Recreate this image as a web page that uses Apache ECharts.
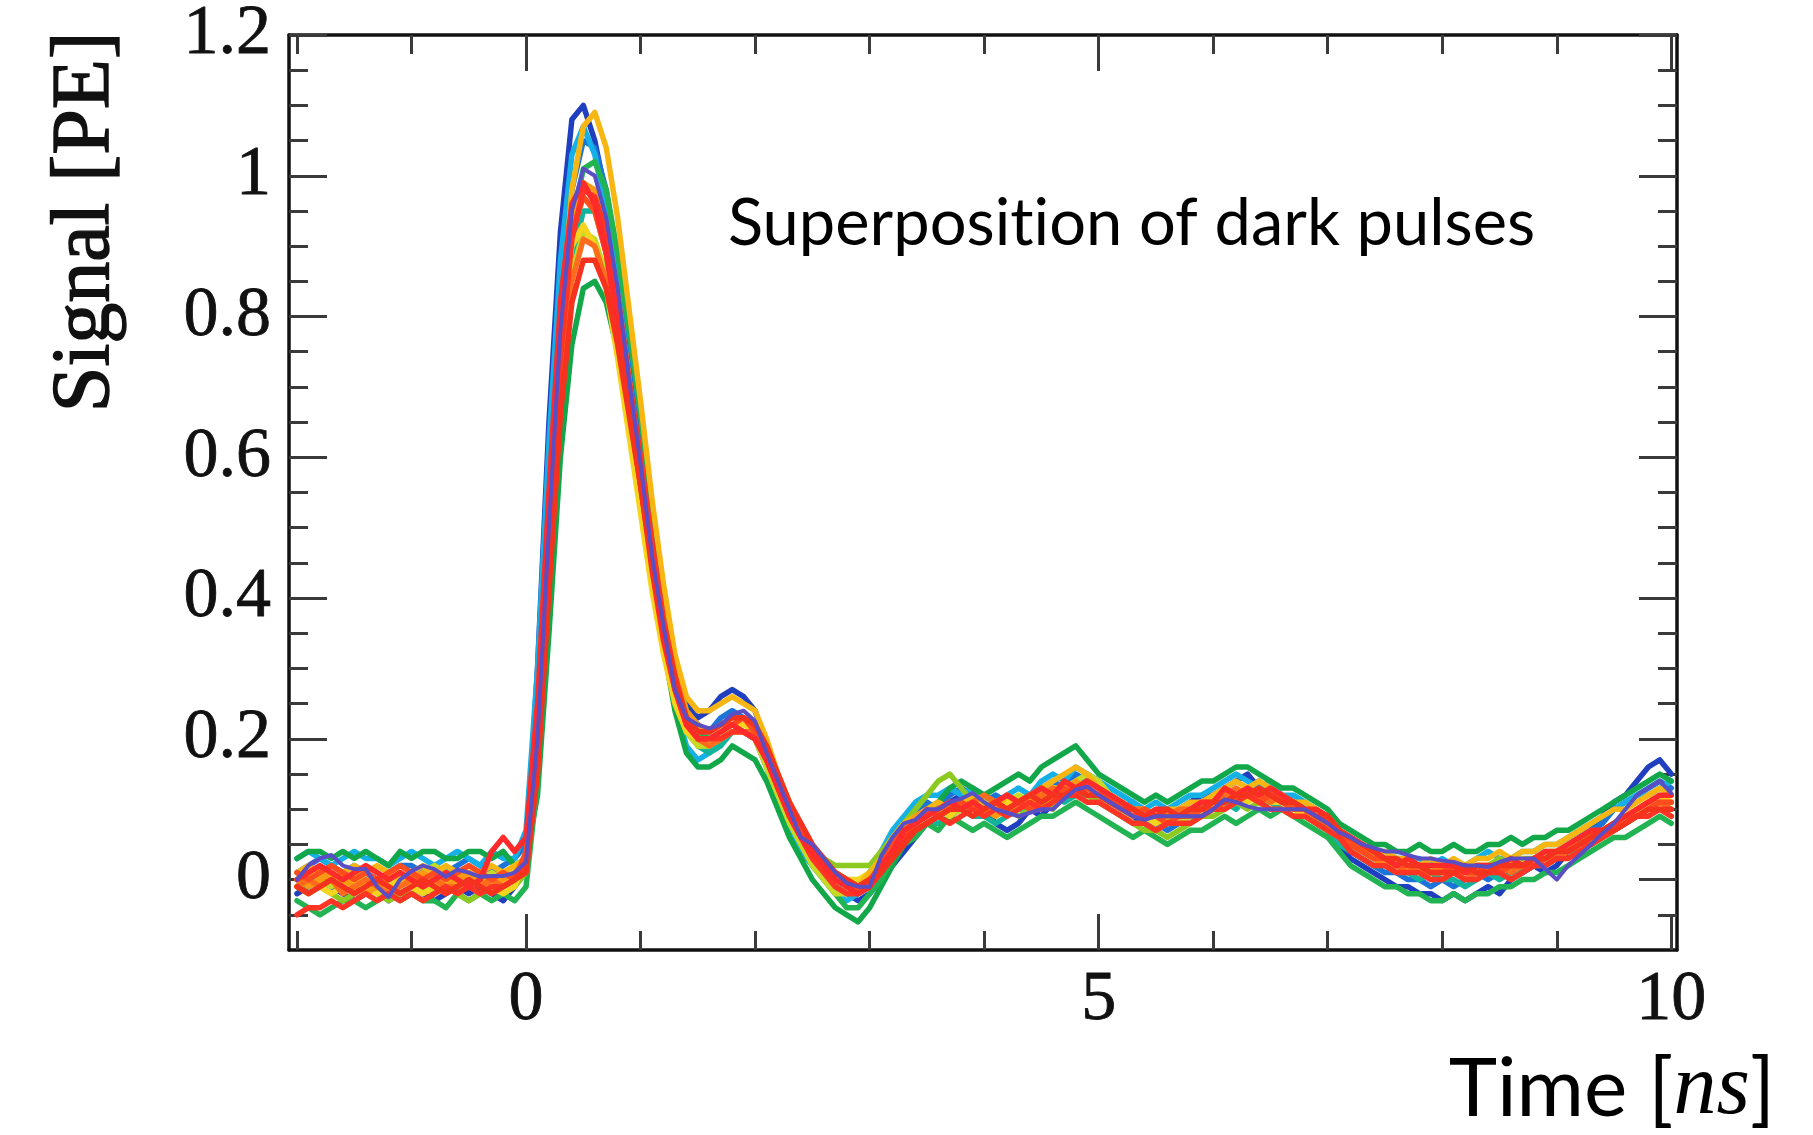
<!DOCTYPE html>
<html>
<head>
<meta charset="utf-8">
<title>Superposition of dark pulses</title>
<script src="https://cdn.jsdelivr.net/npm/echarts@6/dist/echarts.min.js"></script>
<style>
  html, body { margin: 0; padding: 0; background: #ffffff; }
  #chart { width: 1813px; height: 1135px; }
</style>
</head>
<body>
<div id="chart"></div>
<script>
// Sample times of the digitised waveforms [ns], 0.1 ns apart
const times = [
  -2.0, -1.9, -1.8, -1.7, -1.6, -1.5, -1.4, -1.3, -1.2, -1.1,
  -1.0, -0.9, -0.8, -0.7, -0.6, -0.5, -0.4, -0.3, -0.2, -0.1,
  0.0, 0.1, 0.2, 0.3, 0.4, 0.5, 0.6, 0.7, 0.8, 0.9,
  1.0, 1.1, 1.2, 1.3, 1.4, 1.5, 1.6, 1.7, 1.8, 1.9,
  2.0, 2.1, 2.2, 2.3, 2.4, 2.5, 2.6, 2.7, 2.8, 2.9,
  3.0, 3.1, 3.2, 3.3, 3.4, 3.5, 3.6, 3.7, 3.8, 3.9,
  4.0, 4.1, 4.2, 4.3, 4.4, 4.5, 4.6, 4.7, 4.8, 4.9,
  5.0, 5.1, 5.2, 5.3, 5.4, 5.5, 5.6, 5.7, 5.8, 5.9,
  6.0, 6.1, 6.2, 6.3, 6.4, 6.5, 6.6, 6.7, 6.8, 6.9,
  7.0, 7.1, 7.2, 7.3, 7.4, 7.5, 7.6, 7.7, 7.8, 7.9,
  8.0, 8.1, 8.2, 8.3, 8.4, 8.5, 8.6, 8.7, 8.8, 8.9,
  9.0, 9.1, 9.2, 9.3, 9.4, 9.5, 9.6, 9.7, 9.8, 9.9,
  10.0
];

// Individual dark pulses, signal in photo-electrons [PE]
const pulseDarkBlue = [
  -0.02, -0.01, 0.00, -0.01, -0.02, -0.03, -0.02, -0.01, -0.03, -0.02,
  -0.01, -0.02, -0.03, -0.02, -0.01, -0.02, -0.01, -0.02, -0.03, -0.01,
  0.03, 0.30, 0.65, 0.92, 1.08, 1.10, 1.05, 0.97, 0.87, 0.74,
  0.62, 0.50, 0.39, 0.31, 0.25, 0.23, 0.24, 0.26, 0.27, 0.26,
  0.24, 0.19, 0.14, 0.10, 0.06, 0.03, 0.01, -0.01, -0.02, -0.03,
  -0.02, 0.00, 0.02, 0.04, 0.06, 0.08, 0.09, 0.11, 0.12, 0.11,
  0.10, 0.08, 0.07, 0.08, 0.10, 0.09, 0.11, 0.12, 0.14, 0.15,
  0.14, 0.12, 0.10, 0.09, 0.08, 0.07, 0.08, 0.10, 0.11, 0.12,
  0.12, 0.13, 0.14, 0.15, 0.13, 0.12, 0.12, 0.11, 0.10, 0.09,
  0.07, 0.05, 0.03, 0.02, 0.01, 0.00, -0.01, -0.01, -0.02, -0.02,
  -0.03, -0.02, -0.03, -0.02, -0.01, -0.02, 0.00, 0.01, 0.02, 0.01,
  0.02, 0.04, 0.06, 0.07, 0.09, 0.11, 0.12, 0.14, 0.16, 0.17,
  0.15
];
const pulseBlue = [
  0.01, 0.02, 0.03, 0.02, 0.01, 0.02, 0.01, 0.00, 0.01, 0.02,
  0.02, 0.01, 0.00, 0.01, 0.02, 0.03, 0.02, 0.01, 0.02, 0.03,
  0.05, 0.22, 0.52, 0.80, 0.98, 1.05, 1.04, 0.98, 0.88, 0.75,
  0.62, 0.49, 0.38, 0.29, 0.24, 0.22, 0.21, 0.23, 0.24, 0.23,
  0.22, 0.18, 0.13, 0.09, 0.05, 0.03, 0.01, -0.01, -0.02, -0.01,
  0.01, 0.03, 0.06, 0.08, 0.09, 0.11, 0.10, 0.12, 0.13, 0.12,
  0.11, 0.12, 0.11, 0.10, 0.12, 0.13, 0.14, 0.13, 0.15, 0.14,
  0.13, 0.11, 0.10, 0.11, 0.09, 0.08, 0.07, 0.08, 0.09, 0.11,
  0.12, 0.13, 0.12, 0.13, 0.14, 0.12, 0.11, 0.11, 0.10, 0.08,
  0.07, 0.05, 0.04, 0.03, 0.02, 0.01, 0.01, 0.00, 0.00, -0.01,
  0.00, -0.01, 0.00, 0.01, 0.00, 0.01, 0.02, 0.01, 0.02, 0.03,
  0.03, 0.05, 0.06, 0.07, 0.08, 0.10, 0.11, 0.12, 0.13, 0.14,
  0.13
];
const pulseCyan = [
  0.03, 0.04, 0.03, 0.02, 0.03, 0.04, 0.03, 0.03, 0.02, 0.03,
  0.04, 0.03, 0.02, 0.03, 0.04, 0.03, 0.02, 0.04, 0.03, 0.03,
  0.07, 0.30, 0.62, 0.88, 1.03, 1.07, 1.03, 0.95, 0.84, 0.71,
  0.58, 0.45, 0.34, 0.25, 0.19, 0.17, 0.18, 0.20, 0.21, 0.21,
  0.20, 0.16, 0.11, 0.07, 0.04, 0.02, 0.00, -0.02, -0.03, -0.02,
  0.01, 0.04, 0.07, 0.09, 0.11, 0.12, 0.12, 0.13, 0.12, 0.13,
  0.12, 0.11, 0.12, 0.13, 0.12, 0.14, 0.15, 0.14, 0.16, 0.15,
  0.14, 0.13, 0.12, 0.11, 0.10, 0.11, 0.10, 0.11, 0.12, 0.12,
  0.13, 0.14, 0.15, 0.14, 0.13, 0.14, 0.12, 0.12, 0.11, 0.10,
  0.09, 0.07, 0.06, 0.05, 0.04, 0.04, 0.03, 0.03, 0.03, 0.02,
  0.03, 0.02, 0.02, 0.03, 0.04, 0.03, 0.03, 0.04, 0.04, 0.05,
  0.05, 0.06, 0.07, 0.08, 0.09, 0.10, 0.11, 0.12, 0.12, 0.13,
  0.14
];
const pulseTeal = [
  0.00, -0.01, 0.01, 0.00, -0.01, 0.00, 0.01, 0.00, -0.01, 0.00,
  0.00, -0.01, 0.00, 0.01, 0.00, -0.01, 0.00, 0.00, 0.01, 0.00,
  0.02, 0.15, 0.42, 0.70, 0.88, 0.95, 0.95, 0.90, 0.81, 0.70,
  0.58, 0.46, 0.36, 0.28, 0.22, 0.19, 0.18, 0.19, 0.21, 0.21,
  0.20, 0.17, 0.13, 0.09, 0.06, 0.03, 0.01, -0.01, -0.02, -0.02,
  -0.01, 0.01, 0.03, 0.05, 0.07, 0.08, 0.08, 0.09, 0.10, 0.09,
  0.09, 0.08, 0.09, 0.10, 0.10, 0.11, 0.12, 0.11, 0.12, 0.12,
  0.11, 0.10, 0.09, 0.08, 0.08, 0.07, 0.08, 0.08, 0.09, 0.09,
  0.10, 0.11, 0.10, 0.12, 0.11, 0.11, 0.10, 0.09, 0.09, 0.08,
  0.07, 0.05, 0.04, 0.03, 0.02, 0.02, 0.01, 0.01, 0.00, 0.01,
  0.00, 0.00, -0.01, 0.00, 0.01, 0.00, 0.01, 0.01, 0.02, 0.02,
  0.03, 0.04, 0.04, 0.05, 0.06, 0.07, 0.08, 0.09, 0.10, 0.11,
  0.10
];
const pulseGreen = [
  0.03, 0.04, 0.04, 0.03, 0.04, 0.03, 0.04, 0.03, 0.02, 0.04,
  0.03, 0.04, 0.04, 0.03, 0.03, 0.04, 0.04, 0.03, 0.04, 0.02,
  0.03, 0.12, 0.35, 0.60, 0.76, 0.84, 0.85, 0.82, 0.75, 0.66,
  0.56, 0.44, 0.33, 0.24, 0.18, 0.16, 0.16, 0.17, 0.19, 0.18,
  0.17, 0.14, 0.10, 0.06, 0.03, 0.00, -0.02, -0.04, -0.05, -0.06,
  -0.04, -0.01, 0.02, 0.05, 0.08, 0.10, 0.11, 0.13, 0.14, 0.13,
  0.12, 0.13, 0.14, 0.15, 0.14, 0.16, 0.17, 0.18, 0.19, 0.17,
  0.15, 0.14, 0.13, 0.12, 0.11, 0.12, 0.11, 0.12, 0.13, 0.14,
  0.14, 0.15, 0.16, 0.16, 0.15, 0.14, 0.13, 0.13, 0.12, 0.11,
  0.10, 0.08, 0.07, 0.06, 0.05, 0.05, 0.04, 0.04, 0.05, 0.04,
  0.04, 0.05, 0.04, 0.04, 0.05, 0.05, 0.06, 0.05, 0.06, 0.06,
  0.07, 0.07, 0.08, 0.09, 0.10, 0.11, 0.12, 0.13, 0.14, 0.15,
  0.14
];
const pulseGreenLow = [
  -0.03, -0.04, -0.05, -0.04, -0.03, -0.03, -0.04, -0.03, -0.02, -0.03,
  -0.02, -0.03, -0.03, -0.04, -0.02, -0.03, -0.02, -0.03, -0.02, -0.03,
  -0.01, 0.14, 0.44, 0.74, 0.93, 1.01, 1.02, 0.98, 0.89, 0.78,
  0.66, 0.53, 0.41, 0.31, 0.24, 0.21, 0.20, 0.21, 0.22, 0.21,
  0.20, 0.17, 0.13, 0.09, 0.05, 0.02, 0.00, -0.02, -0.04, -0.04,
  -0.02, 0.00, 0.03, 0.05, 0.06, 0.08, 0.07, 0.09, 0.08, 0.07,
  0.08, 0.07, 0.06, 0.07, 0.08, 0.09, 0.09, 0.10, 0.11, 0.10,
  0.09, 0.08, 0.07, 0.06, 0.07, 0.06, 0.05, 0.06, 0.07, 0.07,
  0.08, 0.09, 0.08, 0.09, 0.10, 0.09, 0.10, 0.09, 0.08, 0.07,
  0.06, 0.04, 0.02, 0.01, 0.00, -0.01, -0.01, -0.02, -0.02, -0.03,
  -0.03, -0.02, -0.03, -0.02, -0.02, -0.01, -0.01, 0.00, 0.00, 0.01,
  0.01, 0.02, 0.03, 0.04, 0.05, 0.06, 0.06, 0.07, 0.08, 0.09,
  0.08
];
const pulseLime = [
  -0.01, -0.02, -0.01, -0.02, -0.03, -0.02, -0.01, -0.02, -0.03, -0.02,
  -0.02, -0.01, -0.02, -0.01, -0.02, -0.03, -0.02, -0.01, -0.02, -0.01,
  0.01, 0.20, 0.50, 0.76, 0.92, 0.97, 0.95, 0.89, 0.79, 0.67,
  0.55, 0.43, 0.33, 0.26, 0.21, 0.19, 0.19, 0.20, 0.21, 0.21,
  0.20, 0.16, 0.12, 0.09, 0.06, 0.04, 0.03, 0.02, 0.02, 0.02,
  0.02, 0.04, 0.06, 0.08, 0.10, 0.12, 0.14, 0.15, 0.13, 0.11,
  0.10, 0.09, 0.10, 0.09, 0.10, 0.11, 0.10, 0.12, 0.13, 0.12,
  0.11, 0.10, 0.09, 0.08, 0.07, 0.07, 0.06, 0.07, 0.08, 0.09,
  0.09, 0.10, 0.11, 0.10, 0.11, 0.10, 0.10, 0.09, 0.09, 0.08,
  0.07, 0.06, 0.05, 0.04, 0.03, 0.03, 0.02, 0.02, 0.01, 0.02,
  0.01, 0.02, 0.01, 0.02, 0.02, 0.03, 0.02, 0.03, 0.03, 0.04,
  0.04, 0.05, 0.06, 0.06, 0.07, 0.08, 0.08, 0.09, 0.10, 0.10,
  0.09
];
const pulseChartreuse = [
  0.00, 0.01, 0.00, -0.01, 0.00, 0.01, 0.00, -0.01, 0.00, 0.01,
  0.00, 0.01, 0.02, 0.01, 0.00, 0.01, 0.00, 0.01, 0.00, 0.01,
  0.02, 0.17, 0.45, 0.70, 0.86, 0.92, 0.91, 0.86, 0.77, 0.66,
  0.55, 0.44, 0.34, 0.26, 0.21, 0.19, 0.19, 0.20, 0.21, 0.21,
  0.20, 0.16, 0.12, 0.08, 0.05, 0.02, 0.00, -0.02, -0.02, -0.01,
  0.00, 0.02, 0.05, 0.07, 0.08, 0.09, 0.10, 0.09, 0.10, 0.11,
  0.10, 0.10, 0.11, 0.12, 0.11, 0.12, 0.13, 0.13, 0.14, 0.15,
  0.14, 0.12, 0.11, 0.10, 0.09, 0.08, 0.09, 0.08, 0.09, 0.10,
  0.11, 0.12, 0.11, 0.12, 0.11, 0.12, 0.11, 0.10, 0.10, 0.09,
  0.08, 0.06, 0.05, 0.04, 0.03, 0.02, 0.02, 0.02, 0.01, 0.01,
  0.01, 0.02, 0.02, 0.01, 0.02, 0.02, 0.03, 0.02, 0.03, 0.03,
  0.04, 0.04, 0.05, 0.06, 0.07, 0.08, 0.09, 0.10, 0.10, 0.11,
  0.10
];
const pulseYellow = [
  -0.01, 0.00, -0.01, -0.02, -0.01, 0.00, -0.01, -0.02, -0.01, 0.00,
  -0.01, -0.02, -0.01, 0.00, -0.01, -0.01, 0.00, -0.01, -0.02, -0.01,
  0.03, 0.24, 0.53, 0.77, 0.90, 0.93, 0.90, 0.84, 0.74, 0.63,
  0.52, 0.41, 0.32, 0.25, 0.21, 0.20, 0.20, 0.21, 0.22, 0.22,
  0.21, 0.17, 0.13, 0.09, 0.06, 0.04, 0.02, 0.01, 0.00, 0.00,
  0.01, 0.03, 0.05, 0.07, 0.08, 0.09, 0.10, 0.09, 0.11, 0.10,
  0.11, 0.10, 0.11, 0.10, 0.11, 0.12, 0.11, 0.12, 0.12, 0.13,
  0.12, 0.11, 0.10, 0.09, 0.09, 0.08, 0.09, 0.09, 0.10, 0.10,
  0.10, 0.11, 0.12, 0.11, 0.12, 0.11, 0.11, 0.10, 0.09, 0.09,
  0.08, 0.07, 0.05, 0.04, 0.04, 0.03, 0.03, 0.02, 0.02, 0.02,
  0.02, 0.01, 0.02, 0.02, 0.01, 0.02, 0.02, 0.03, 0.02, 0.03,
  0.04, 0.05, 0.05, 0.06, 0.07, 0.08, 0.09, 0.10, 0.11, 0.12,
  0.11
];
const pulseAmber = [
  0.01, 0.02, 0.01, 0.00, 0.01, 0.02, 0.01, 0.02, 0.01, 0.00,
  0.01, 0.02, 0.01, 0.02, 0.01, 0.00, 0.01, 0.02, 0.01, 0.02,
  0.03, 0.18, 0.48, 0.78, 0.98, 1.07, 1.09, 1.04, 0.94, 0.81,
  0.68, 0.54, 0.42, 0.32, 0.26, 0.24, 0.24, 0.25, 0.26, 0.25,
  0.24, 0.20, 0.15, 0.11, 0.07, 0.04, 0.02, 0.00, -0.01, -0.01,
  0.01, 0.03, 0.06, 0.08, 0.09, 0.10, 0.11, 0.10, 0.11, 0.12,
  0.11, 0.10, 0.12, 0.11, 0.12, 0.13, 0.14, 0.15, 0.16, 0.15,
  0.13, 0.12, 0.11, 0.10, 0.10, 0.09, 0.10, 0.10, 0.11, 0.11,
  0.12, 0.13, 0.14, 0.13, 0.14, 0.13, 0.12, 0.11, 0.11, 0.10,
  0.09, 0.07, 0.06, 0.05, 0.04, 0.04, 0.03, 0.03, 0.02, 0.03,
  0.02, 0.03, 0.02, 0.03, 0.03, 0.04, 0.03, 0.04, 0.04, 0.05,
  0.05, 0.06, 0.07, 0.08, 0.09, 0.10, 0.10, 0.11, 0.12, 0.13,
  0.12
];
const pulseOrange = [
  0.00, -0.01, 0.00, 0.01, 0.00, -0.01, -0.02, -0.01, 0.00, 0.01,
  0.00, 0.01, 0.00, -0.01, 0.00, 0.01, 0.00, -0.01, 0.00, 0.01,
  0.03, 0.20, 0.49, 0.76, 0.93, 0.99, 0.98, 0.92, 0.83, 0.71,
  0.59, 0.47, 0.37, 0.29, 0.24, 0.22, 0.21, 0.22, 0.23, 0.23,
  0.22, 0.18, 0.14, 0.10, 0.07, 0.04, 0.02, 0.00, -0.01, -0.01,
  0.00, 0.02, 0.05, 0.07, 0.09, 0.10, 0.09, 0.10, 0.11, 0.10,
  0.10, 0.09, 0.10, 0.11, 0.12, 0.11, 0.13, 0.12, 0.14, 0.13,
  0.12, 0.11, 0.11, 0.10, 0.09, 0.10, 0.09, 0.09, 0.10, 0.10,
  0.11, 0.12, 0.11, 0.13, 0.12, 0.12, 0.11, 0.11, 0.10, 0.09,
  0.08, 0.06, 0.05, 0.04, 0.03, 0.02, 0.02, 0.02, 0.01, 0.01,
  0.02, 0.01, 0.01, 0.02, 0.02, 0.01, 0.02, 0.02, 0.03, 0.03,
  0.03, 0.04, 0.05, 0.06, 0.07, 0.08, 0.09, 0.10, 0.11, 0.11,
  0.11
];
const pulseVermilion = [
  -0.01, 0.00, -0.01, 0.00, -0.02, -0.01, 0.00, -0.01, -0.02, -0.01,
  0.00, -0.01, 0.00, -0.01, -0.01, 0.00, -0.01, 0.00, -0.01, 0.00,
  0.02, 0.17, 0.44, 0.69, 0.85, 0.91, 0.90, 0.85, 0.77, 0.67,
  0.56, 0.45, 0.35, 0.27, 0.22, 0.20, 0.19, 0.20, 0.21, 0.21,
  0.21, 0.18, 0.14, 0.10, 0.07, 0.04, 0.02, 0.01, 0.00, -0.01,
  0.00, 0.02, 0.04, 0.06, 0.08, 0.09, 0.10, 0.11, 0.10, 0.11,
  0.12, 0.11, 0.10, 0.11, 0.12, 0.12, 0.13, 0.12, 0.13, 0.14,
  0.13, 0.12, 0.11, 0.10, 0.10, 0.09, 0.09, 0.10, 0.10, 0.11,
  0.11, 0.12, 0.13, 0.12, 0.12, 0.11, 0.12, 0.10, 0.10, 0.09,
  0.08, 0.07, 0.05, 0.04, 0.03, 0.03, 0.02, 0.01, 0.02, 0.01,
  0.01, 0.01, 0.00, 0.01, 0.01, 0.02, 0.01, 0.02, 0.02, 0.03,
  0.03, 0.04, 0.05, 0.05, 0.06, 0.07, 0.08, 0.09, 0.10, 0.11,
  0.10
];
const pulseRedOrange = [
  0.01, 0.00, 0.01, 0.02, 0.01, 0.00, 0.01, 0.00, 0.01, 0.02,
  0.01, 0.00, 0.01, 0.00, 0.01, 0.02, 0.01, 0.00, 0.01, 0.00,
  0.04, 0.23, 0.52, 0.78, 0.92, 0.97, 0.95, 0.89, 0.80, 0.68,
  0.57, 0.45, 0.35, 0.28, 0.23, 0.21, 0.21, 0.22, 0.22, 0.23,
  0.21, 0.18, 0.14, 0.10, 0.07, 0.04, 0.02, 0.01, 0.00, -0.01,
  0.00, 0.02, 0.05, 0.07, 0.08, 0.10, 0.09, 0.10, 0.11, 0.10,
  0.10, 0.11, 0.10, 0.11, 0.10, 0.11, 0.12, 0.13, 0.12, 0.13,
  0.12, 0.11, 0.10, 0.09, 0.10, 0.09, 0.08, 0.09, 0.09, 0.10,
  0.10, 0.11, 0.12, 0.12, 0.11, 0.12, 0.11, 0.10, 0.10, 0.09,
  0.08, 0.07, 0.05, 0.04, 0.03, 0.03, 0.02, 0.02, 0.02, 0.01,
  0.01, 0.02, 0.01, 0.01, 0.02, 0.01, 0.02, 0.02, 0.02, 0.03,
  0.04, 0.04, 0.05, 0.06, 0.07, 0.08, 0.09, 0.09, 0.10, 0.11,
  0.11
];
const pulseRedLow = [
  -0.05, -0.04, -0.04, -0.03, -0.04, -0.03, -0.02, -0.03, -0.02, -0.03,
  -0.02, -0.03, -0.02, -0.01, -0.02, -0.01, -0.02, -0.01, -0.01, 0.00,
  0.02, 0.18, 0.47, 0.74, 0.91, 0.98, 0.97, 0.92, 0.83, 0.71,
  0.60, 0.48, 0.37, 0.29, 0.23, 0.20, 0.20, 0.20, 0.21, 0.21,
  0.20, 0.17, 0.13, 0.09, 0.06, 0.03, 0.01, -0.01, -0.02, -0.02,
  -0.01, 0.01, 0.04, 0.06, 0.07, 0.08, 0.09, 0.08, 0.09, 0.10,
  0.09, 0.10, 0.09, 0.10, 0.11, 0.10, 0.11, 0.12, 0.12, 0.11,
  0.11, 0.10, 0.09, 0.08, 0.08, 0.07, 0.08, 0.08, 0.08, 0.09,
  0.10, 0.10, 0.11, 0.12, 0.11, 0.10, 0.10, 0.09, 0.09, 0.08,
  0.07, 0.06, 0.04, 0.03, 0.02, 0.02, 0.01, 0.01, 0.01, 0.00,
  0.00, 0.01, 0.00, 0.00, 0.01, 0.01, 0.00, 0.01, 0.02, 0.02,
  0.03, 0.03, 0.04, 0.05, 0.06, 0.07, 0.08, 0.09, 0.09, 0.10,
  0.09
];
const pulseRed = [
  0.00, 0.01, 0.02, 0.01, 0.00, 0.01, 0.02, 0.01, 0.00, 0.01,
  0.00, -0.01, 0.00, 0.01, 0.00, -0.01, 0.00, 0.04, 0.06, 0.04,
  0.06, 0.25, 0.55, 0.82, 0.96, 0.99, 0.96, 0.89, 0.79, 0.67,
  0.56, 0.44, 0.34, 0.27, 0.22, 0.20, 0.20, 0.21, 0.22, 0.21,
  0.20, 0.17, 0.13, 0.09, 0.06, 0.04, 0.02, 0.00, -0.01, -0.02,
  -0.01, 0.02, 0.04, 0.07, 0.08, 0.09, 0.10, 0.11, 0.10, 0.11,
  0.10, 0.11, 0.12, 0.11, 0.12, 0.13, 0.12, 0.14, 0.13, 0.14,
  0.13, 0.12, 0.11, 0.10, 0.09, 0.10, 0.10, 0.09, 0.10, 0.11,
  0.11, 0.13, 0.12, 0.13, 0.12, 0.13, 0.12, 0.11, 0.10, 0.10,
  0.09, 0.07, 0.06, 0.05, 0.04, 0.03, 0.02, 0.03, 0.02, 0.02,
  0.02, 0.02, 0.01, 0.02, 0.02, 0.02, 0.03, 0.02, 0.03, 0.04,
  0.04, 0.05, 0.06, 0.07, 0.07, 0.08, 0.09, 0.10, 0.11, 0.12,
  0.12
];
const pulseScarlet = [
  -0.01, -0.02, -0.01, 0.00, -0.01, -0.02, -0.01, 0.00, -0.01, -0.02,
  -0.01, 0.00, -0.01, -0.02, -0.01, 0.00, -0.01, -0.02, -0.01, 0.00,
  0.01, 0.15, 0.41, 0.66, 0.82, 0.88, 0.88, 0.84, 0.76, 0.66,
  0.56, 0.45, 0.36, 0.28, 0.23, 0.21, 0.21, 0.22, 0.23, 0.23,
  0.22, 0.19, 0.15, 0.11, 0.08, 0.05, 0.03, 0.01, 0.00, -0.01,
  0.00, 0.01, 0.03, 0.05, 0.07, 0.08, 0.09, 0.10, 0.10, 0.09,
  0.10, 0.11, 0.10, 0.11, 0.12, 0.11, 0.12, 0.12, 0.13, 0.12,
  0.12, 0.11, 0.10, 0.10, 0.09, 0.09, 0.10, 0.09, 0.10, 0.10,
  0.11, 0.11, 0.12, 0.12, 0.13, 0.12, 0.11, 0.11, 0.10, 0.09,
  0.09, 0.07, 0.06, 0.05, 0.04, 0.03, 0.03, 0.02, 0.02, 0.01,
  0.01, 0.01, 0.02, 0.01, 0.01, 0.02, 0.02, 0.02, 0.03, 0.03,
  0.04, 0.04, 0.05, 0.06, 0.07, 0.07, 0.08, 0.09, 0.10, 0.10,
  0.10
];
const pulsePurple = [
  0.00, 0.02, 0.03, 0.035, 0.02, 0.015, 0.015, -0.01, -0.025, 0.00,
  0.012, 0.02, 0.015, 0.004, 0.014, 0.01, 0.004, 0.005, 0.005, 0.01,
  0.025, 0.20, 0.50, 0.78, 0.95, 1.01, 1.00, 0.94, 0.84, 0.71,
  0.59, 0.46, 0.36, 0.27, 0.23, 0.22, 0.215, 0.22, 0.235, 0.24,
  0.225, 0.18, 0.14, 0.10, 0.06, 0.05, 0.03, 0.01, -0.005, -0.01,
  -0.01, 0.033, 0.06, 0.08, 0.085, 0.10, 0.10, 0.11, 0.115, 0.123,
  0.11, 0.10, 0.095, 0.09, 0.095, 0.10, 0.10, 0.115, 0.128, 0.132,
  0.12, 0.11, 0.10, 0.09, 0.085, 0.09, 0.09, 0.09, 0.09, 0.09,
  0.10, 0.114, 0.11, 0.104, 0.10, 0.10, 0.10, 0.10, 0.10, 0.09,
  0.08, 0.067, 0.06, 0.05, 0.045, 0.04, 0.04, 0.035, 0.03, 0.03,
  0.027, 0.025, 0.02, 0.02, 0.018, 0.025, 0.03, 0.03, 0.03, 0.015,
  0.00, 0.02, 0.035, 0.05, 0.066, 0.08, 0.10, 0.12, 0.13, 0.14,
  0.123
];

// Drawing order: cool colours first, warm colours on top, purple last
const traces = [
  { name: 'pulse 1',  color: '#1f3fbf', values: pulseDarkBlue },
  { name: 'pulse 2',  color: '#1c74d9', values: pulseBlue },
  { name: 'pulse 3',  color: '#14b0e6', values: pulseCyan },
  { name: 'pulse 4',  color: '#12b49c', values: pulseTeal },
  { name: 'pulse 5',  color: '#12a84a', values: pulseGreen },
  { name: 'pulse 6',  color: '#22b452', values: pulseGreenLow },
  { name: 'pulse 7',  color: '#8cca22', values: pulseLime },
  { name: 'pulse 8',  color: '#c6da26', values: pulseChartreuse },
  { name: 'pulse 9',  color: '#f4d41c', values: pulseYellow },
  { name: 'pulse 10', color: '#f8b612', values: pulseAmber },
  { name: 'pulse 11', color: '#fb9a12', values: pulseOrange },
  { name: 'pulse 12', color: '#ff6c1c', values: pulseVermilion },
  { name: 'pulse 13', color: '#ff4c1e', values: pulseRedOrange },
  { name: 'pulse 14', color: '#ff3424', values: pulseRedLow },
  { name: 'pulse 15', color: '#ff2a2a', values: pulseRed },
  { name: 'pulse 16', color: '#f5321e', values: pulseScarlet },
  { name: 'pulse 17', color: '#5a4ec4', values: pulsePurple }
];

// Axis ticks and labels
const xMajorTicks = [0, 5, 10];
const xMinorTicks = [-2, -1, 0, 1, 2, 3, 4, 5, 6, 7, 8, 9, 10];
const yMajorTicks = [0, 0.2, 0.4, 0.6, 0.8, 1, 1.2];
const yMinorTicks = [-0.05, 0, 0.05, 0.1, 0.15, 0.2, 0.25, 0.3, 0.35, 0.4, 0.45, 0.5,
  0.55, 0.6, 0.65, 0.7, 0.75, 0.8, 0.85, 0.9, 0.95, 1, 1.05, 1.1, 1.15];

const X_RANGE = [-2.07, 10.05];
const Y_RANGE = [-0.1, 1.2];

const serif = 'Liberation Serif, DejaVu Serif, serif';
const frameColor = '#111111';
const tickColor = '#3a3a3a';

function xAxisDef(position, major, withLine, withLabels) {
  return {
    type: 'value',
    position: position,
    min: X_RANGE[0],
    max: X_RANGE[1],
    axisLine: { show: withLine, onZero: false, lineStyle: { color: frameColor, width: 3.5 } },
    axisTick: {
      show: true, inside: true,
      length: major ? 36 : 19,
      customValues: major ? xMajorTicks : xMinorTicks,
      lineStyle: { color: tickColor, width: 3 }
    },
    axisLabel: withLabels ? {
      show: true, customValues: xMajorTicks, margin: 16,
      fontFamily: serif, fontSize: 70, color: '#111',
      textBorderColor: '#111', textBorderWidth: 0.8
    } : { show: false },
    splitLine: { show: false }
  };
}

function yAxisDef(position, major, withLine, withLabels) {
  return {
    type: 'value',
    position: position,
    min: Y_RANGE[0],
    max: Y_RANGE[1],
    axisLine: { show: withLine, onZero: false, lineStyle: { color: frameColor, width: 3.5 } },
    axisTick: {
      show: true, inside: true,
      length: major ? 38 : 19,
      customValues: major ? yMajorTicks : yMinorTicks,
      lineStyle: { color: tickColor, width: 3 }
    },
    axisLabel: withLabels ? {
      show: true, customValues: yMajorTicks, margin: 18,
      fontFamily: serif, fontSize: 70, color: '#111',
      textBorderColor: '#111', textBorderWidth: 0.8
    } : { show: false },
    splitLine: { show: false }
  };
}

const chart = echarts.init(document.getElementById('chart'), null, { renderer: 'canvas' });

chart.setOption({
  backgroundColor: '#ffffff',
  animation: false,
  grid: {
    left: 289, top: 35, width: 1388, height: 915,
    containLabel: false, outerBoundsMode: 'none'
  },
  xAxis: [
    xAxisDef('bottom', true, true, true),
    xAxisDef('bottom', false, false, false),
    xAxisDef('top', true, true, false),
    xAxisDef('top', false, false, false)
  ],
  yAxis: [
    yAxisDef('left', true, true, true),
    yAxisDef('left', false, false, false),
    yAxisDef('right', true, true, false),
    yAxisDef('right', false, false, false)
  ],
  series: traces.map((tr, k) => ({
    name: tr.name,
    type: 'line',
    xAxisIndex: 0,
    yAxisIndex: 0,
    showSymbol: false,
    symbol: 'none',
    clip: true,
    lineStyle: { color: tr.color, width: k === traces.length - 1 ? 4 : 5.5, join: 'round', cap: 'round' },
    itemStyle: { color: tr.color },
    emphasis: { disabled: true },
    data: times.map((t, i) => [t, tr.values[i]])
  })),
  graphic: [
    {
      type: 'text',
      x: 86, y: 222,
      rotation: Math.PI / 2,
      style: {
        text: 'Signal [PE]',
        font: '82px "Liberation Serif", serif',
        fill: '#111',
        stroke: '#111',
        lineWidth: 1.4,
        align: 'center',
        verticalAlign: 'middle'
      }
    },
    {
      // drawn as two runs so the "t" and "i" stay separate glyphs
      type: 'text',
      x: 728, y: 224,
      style: {
        text: '{s|Superposit}{s|ion of dark pulses}',
        align: 'left',
        verticalAlign: 'middle',
        fill: '#000',
        rich: {
          s: { font: '65px Lato, "Noto Sans", sans-serif', fill: '#000' }
        }
      }
    },
    {
      type: 'text',
      x: 1775, y: 1090,
      style: {
        text: '{a|Time [}{b|ns}{a|]}',
        align: 'right',
        verticalAlign: 'middle',
        fill: '#000',
        rich: {
          a: { font: '82px Lato, "Noto Sans", sans-serif', fill: '#000' },
          b: { font: 'italic 86px "Liberation Serif", serif', fill: '#000' }
        }
      }
    }
  ]
});
</script>
</body>
</html>
